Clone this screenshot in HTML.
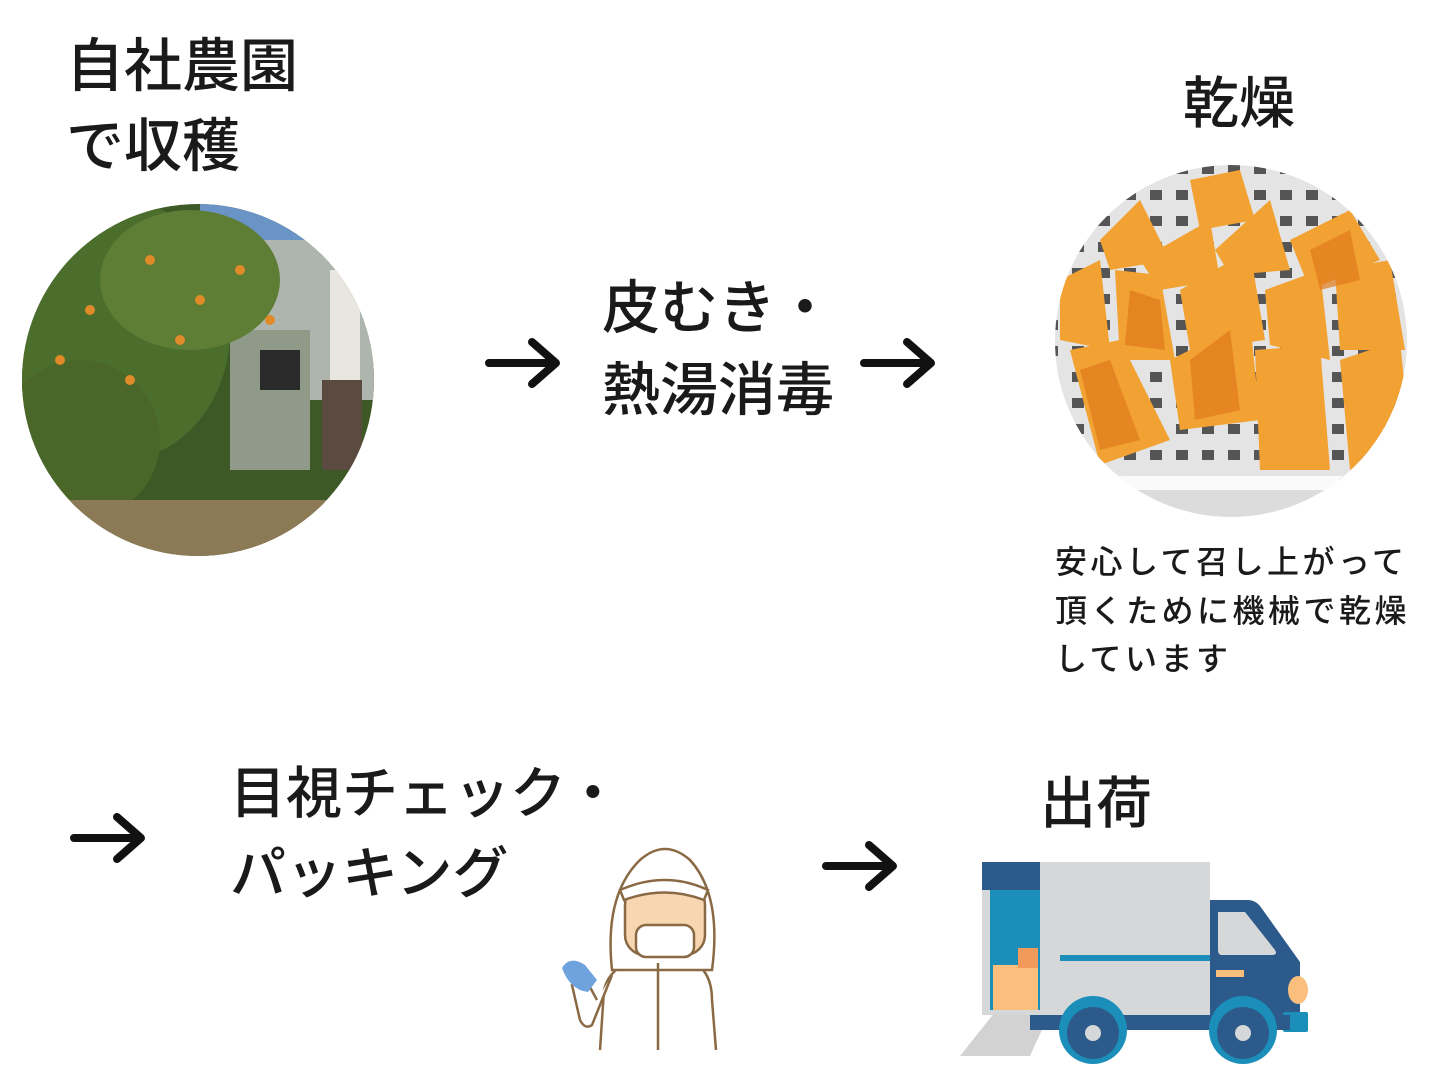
<!DOCTYPE html>
<html><head><meta charset="utf-8"><style>
html,body{margin:0;padding:0;background:#fff;width:1440px;height:1080px;overflow:hidden}
.t{position:absolute;font-family:"Liberation Sans","Noto Sans CJK JP",sans-serif;color:#1a1a1a;white-space:nowrap;line-height:1;font-weight:500}
</style></head><body>
<svg width="1440" height="1080" style="position:absolute;left:0;top:0">
<defs>
<clipPath id="c1"><circle cx="198" cy="380" r="176"/></clipPath>
<clipPath id="c2"><circle cx="1231" cy="341" r="176"/></clipPath>
<pattern id="grid" width="26" height="26" patternUnits="userSpaceOnUse"><rect width="26" height="26" fill="#e4e4e4"/><rect x="6" y="8" width="12" height="10" fill="#555"/></pattern>
</defs>
<g clip-path="url(#c1)">
<rect x="20" y="200" width="360" height="360" fill="#3d5a26"/>
<rect x="200" y="200" width="180" height="60" fill="#6a93c6"/>
<rect x="250" y="240" width="130" height="160" fill="#aeb5ae"/>
<rect x="230" y="330" width="80" height="140" fill="#8f9a88"/>
<rect x="260" y="350" width="40" height="40" fill="#2a2a2a"/>
<ellipse cx="120" cy="330" rx="110" ry="130" fill="#4b6e2c"/>
<ellipse cx="190" cy="280" rx="90" ry="70" fill="#5e7d35"/>
<ellipse cx="80" cy="440" rx="80" ry="80" fill="#4a6628"/>
<rect x="20" y="500" width="360" height="60" fill="#8b7a55"/>
<rect x="330" y="270" width="30" height="110" fill="#e9e6e0"/>
<rect x="322" y="380" width="40" height="90" fill="#5a4a40"/>
<g fill="#e08a2a"><circle cx="150" cy="260" r="5"/><circle cx="200" cy="300" r="5"/><circle cx="90" cy="310" r="5"/><circle cx="240" cy="270" r="5"/><circle cx="130" cy="380" r="5"/><circle cx="60" cy="360" r="5"/><circle cx="180" cy="340" r="5"/><circle cx="270" cy="320" r="5"/></g>
</g>
<g clip-path="url(#c2)">
<rect x="1050" y="160" width="370" height="320" fill="url(#grid)"/>
<rect x="1050" y="476" width="370" height="14" fill="#fafafa"/>
<rect x="1050" y="490" width="370" height="40" fill="#dcdcdc"/>
<g fill="#f2a233">
<polygon points="1100,240 1140,200 1170,260 1110,270"/>
<polygon points="1140,260 1210,220 1220,280 1160,290"/>
<polygon points="1215,250 1270,200 1290,270 1230,275"/>
<polygon points="1190,180 1240,170 1255,220 1200,230"/>
<polygon points="1290,240 1350,210 1380,260 1310,290"/>
<polygon points="1060,280 1100,260 1110,350 1060,340"/>
<polygon points="1115,270 1160,275 1175,360 1120,360"/>
<polygon points="1180,290 1250,250 1265,340 1190,350"/>
<polygon points="1265,290 1320,270 1330,360 1270,345"/>
<polygon points="1335,270 1390,260 1405,350 1340,350"/>
<polygon points="1070,350 1120,340 1170,440 1100,465"/>
<polygon points="1170,360 1250,320 1260,420 1180,430"/>
<polygon points="1255,350 1320,345 1330,470 1260,470"/>
<polygon points="1340,360 1400,340 1410,440 1350,470"/>
</g>
<g fill="#e07a1c" opacity=".7">
<polygon points="1130,290 1160,300 1165,350 1125,345"/>
<polygon points="1190,360 1230,330 1240,410 1195,420"/>
<polygon points="1080,370 1110,360 1140,440 1100,450"/>
<polygon points="1310,250 1350,230 1360,280 1320,290"/>
</g>
</g>
<g stroke="#111" stroke-width="8" stroke-linecap="round" stroke-linejoin="round" fill="none">
<path d="M489 363 H555 M532 342 L556 363 L532 384"/>
<path d="M864 363 H930 M907 342 L931 363 L907 384"/>
<path d="M74 838 H140 M117 817 L141 838 L117 859"/>
<path d="M826 866 H892 M869 845 L893 866 L869 887"/>
</g>
<g stroke="#8a6a45" stroke-width="2.5" fill="#fff">
<path d="M600 1050 L604 990 Q610 965 640 960 L690 960 Q712 970 712 1000 L716 1050"/>
<path d="M612 975 L592 1025 Q585 1030 580 1020 L572 985 L585 978 L597 1000"/>
<path d="M612 970 Q604 895 640 860 Q665 838 690 860 Q722 895 712 970 Z"/>
<rect x="625" y="885" width="80" height="70" rx="20" fill="#f6d7b2"/>
<path d="M620 890 Q665 870 708 890 L704 900 Q665 885 624 900 Z" fill="#fff"/>
<rect x="636" y="925" width="58" height="32" rx="10" fill="#fff"/>
<path d="M658 1050 V963" />
</g>
<path d="M562 968 Q570 955 585 965 L597 980 L588 992 Q570 990 562 968 Z" fill="#6fa3de"/>
<polygon points="995,1012 1050,1012 1030,1056 960,1056" fill="#d2d2d2"/>
<rect x="982" y="862" width="228" height="153" fill="#d5d7d9"/>
<rect x="982" y="862" width="58" height="28" fill="#2c5a8a"/>
<rect x="990" y="890" width="50" height="120" fill="#1b8fba"/>
<rect x="993" y="965" width="45" height="45" fill="#fbbf7d"/>
<rect x="1018" y="948" width="20" height="20" fill="#f29a5a"/>
<rect x="1060" y="955" width="150" height="6" fill="#1b8fba"/>
<path d="M1210 900 H1248 Q1255 900 1260 906 L1300 962 V1015 H1210 Z" fill="#2c5a8a"/>
<path d="M1218 912 H1245 L1275 950 Q1278 955 1272 955 H1222 Q1218 955 1218 950 Z" fill="#d5d7d9"/>
<rect x="1216" y="970" width="28" height="7" fill="#fbbf7d"/>
<ellipse cx="1298" cy="990" rx="10" ry="14" fill="#fbbf7d"/>
<rect x="1283" y="1012" width="25" height="20" rx="2" fill="#1b8fba"/>
<rect x="1030" y="1015" width="260" height="15" fill="#2c5a8a"/>
<circle cx="1093" cy="1030" r="34" fill="#1b8fba"/><circle cx="1093" cy="1033" r="26" fill="#2c5a8a"/><circle cx="1093" cy="1033" r="8" fill="#d5d7d9"/>
<circle cx="1243" cy="1030" r="34" fill="#1b8fba"/><circle cx="1243" cy="1033" r="26" fill="#2c5a8a"/><circle cx="1243" cy="1033" r="8" fill="#d5d7d9"/>
</svg>
<div class="t" style="left:66px;top:27px;font-size:58px;line-height:80px">自社農園<br>で収穫</div>
<div class="t" style="left:1183px;top:76px;font-size:56px">乾燥</div>
<div class="t" style="left:602px;top:268px;font-size:58px;line-height:82px">皮むき・<br>熱湯消毒</div>
<div class="t" style="left:1055px;top:538px;font-size:32px;line-height:48.5px;letter-spacing:3.5px">安心して召し上がって<br>頂くために機械で乾燥<br>しています</div>
<div class="t" style="left:230px;top:754px;font-size:56px;line-height:80px">目視チェック・<br>パッキング</div>
<div class="t" style="left:1040px;top:776px;font-size:56px">出荷</div>
</body></html>
